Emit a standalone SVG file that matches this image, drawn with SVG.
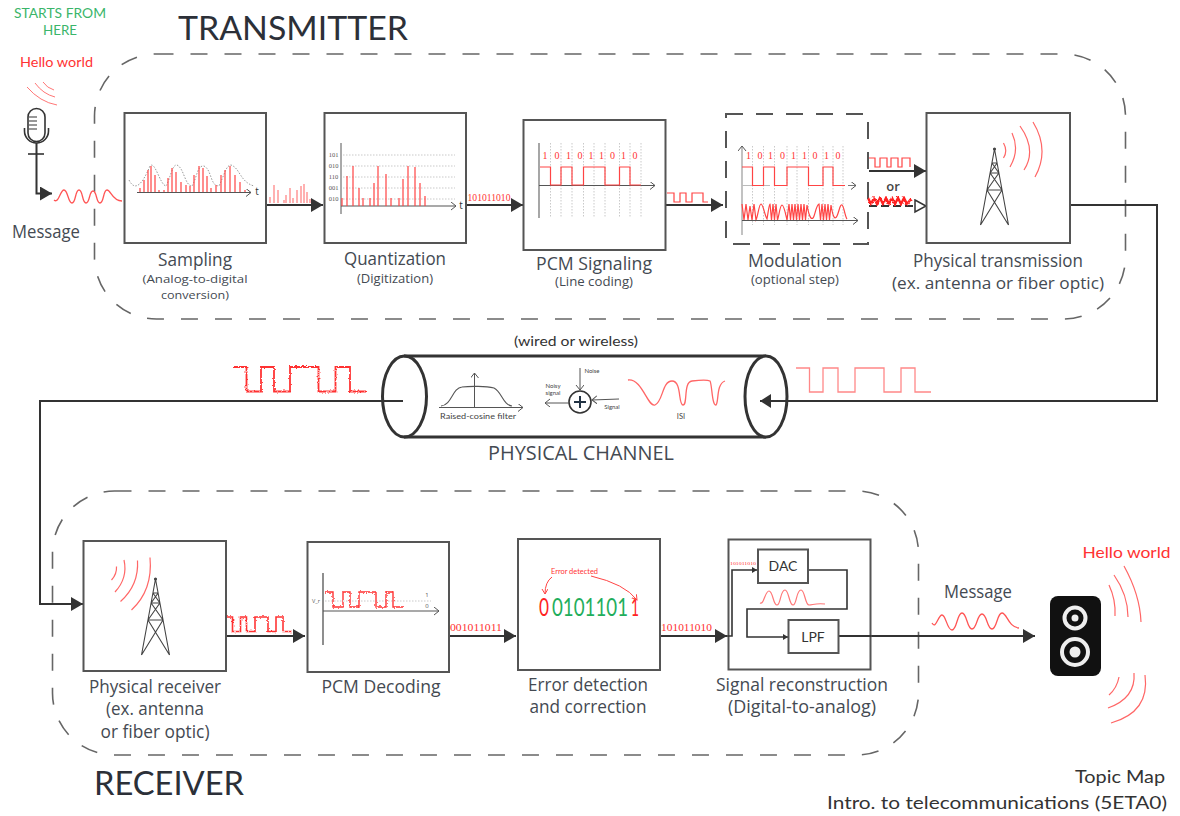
<svg xmlns="http://www.w3.org/2000/svg" width="1180" height="816" viewBox="0 0 1180 816">
<style>
text{font-family:"Open Sans","Noto Sans",sans-serif;fill:#444a52;text-anchor:middle}
.h{font-size:18px}
.s{font-size:13px}
.m{font-size:16px}
.c{font-family:"Lato","Noto Sans",sans-serif}
.r{fill:#f33}
.g{fill:#3ab56a}
.b{font-family:"Liberation Serif",serif;fill:#f33}
.box{fill:#fff;stroke:#555;stroke-width:2}
.dash{fill:none;stroke:#666;stroke-width:1.6;stroke-dasharray:17 17}
.ln{fill:none;stroke:#333;stroke-width:2}
.thin{fill:none;stroke:#555;stroke-width:1}
.sig{fill:none;stroke:#f44;stroke-width:1.2}
.lt{fill:none;stroke:#f88;stroke-width:1.3}
.dot{fill:none;stroke:#bbb;stroke-width:.8;stroke-dasharray:1.5 1.5}
</style>
<defs>
<marker id="a" markerUnits="userSpaceOnUse" markerWidth="13" markerHeight="15" refX="12" refY="7" orient="auto"><path d="M0,0L12,7L0,14Z" fill="#333"/></marker>
<marker id="ah" markerUnits="userSpaceOnUse" markerWidth="14" markerHeight="15" refX="12" refY="7" orient="auto"><path d="M1,1L12,7L1,13Z" fill="#fff" stroke="#333" stroke-width="1.5"/></marker>
<marker id="sm" markerUnits="userSpaceOnUse" markerWidth="7" markerHeight="7" refX="5" refY="3" orient="auto"><path d="M0,0L5,3L0,6Z" fill="#333"/></marker>
<marker id="ch" markerUnits="userSpaceOnUse" markerWidth="8" markerHeight="10" refX="5" refY="4" orient="auto"><path d="M0,0L5,4L0,8" fill="none" stroke="#555" stroke-width="1"/></marker>
<marker id="cr" markerUnits="userSpaceOnUse" markerWidth="7" markerHeight="8" refX="5" refY="3" orient="auto"><path d="M0,0L5,3L0,6" fill="none" stroke="#f44" stroke-width="1"/></marker>
<filter id="n" x="-5%" y="-30%" width="110%" height="160%"><feTurbulence type="fractalNoise" baseFrequency=".45" numOctaves="2" seed="4"/><feDisplacementMap in="SourceGraphic" scale="3" xChannelSelector="R" yChannelSelector="G"/></filter>
<g id="tower" fill="none" stroke="#444" stroke-width="1.1">
<path d="M0,0L-14,76M0,0L14,76M-2.6,14L2.6,14M-2.6,14L4.400,24M2.6,14L-4.400,24M-4.400,24L4.400,24M-4.400,24L7.500,41M4.400,24L-7.500,41M-7.500,41L7.500,41M-7.500,41L14,76M7.500,41L-14,76"/>
<circle cx="0" cy="0" r="1" fill="#444"/>
</g>
</defs>

<g id="frames">
<rect class="dash" x="94.5" y="54" width="1031" height="265" rx="62"/>
<rect class="dash" x="52.5" y="491" width="866" height="264" rx="62"/>
</g>

<g id="titles">
<text class="c" x="293" y="40" font-size="32" textLength="230" lengthAdjust="spacingAndGlyphs" style="fill:#2c3038">TRANSMITTER</text>
<text class="c" x="169" y="795" font-size="32" textLength="150" lengthAdjust="spacingAndGlyphs" style="fill:#2c3038">RECEIVER</text>
<text class="c g" x="60" y="18" font-size="12.5" textLength="92" lengthAdjust="spacingAndGlyphs">STARTS FROM</text>
<text class="c g" x="60" y="35" font-size="12.5" textLength="34" lengthAdjust="spacingAndGlyphs">HERE</text>
<text class="c" x="1165" y="783" font-size="18" style="text-anchor:end;fill:#333" textLength="90" lengthAdjust="spacingAndGlyphs">Topic Map</text>
<text class="c" x="1167" y="809" font-size="18" style="text-anchor:end;fill:#333" textLength="340" lengthAdjust="spacingAndGlyphs">Intro. to telecommunications (5ETA0)</text>
</g>

<g id="connectors">
<path class="ln" marker-end="url(#a)" d="M36.5,143V193.5H52"/>
<path class="ln" marker-end="url(#a)" d="M266,205H323"/>
<path class="ln" marker-end="url(#a)" d="M466,205H523"/>
<path class="ln" marker-end="url(#a)" d="M666,205H723"/>
<path class="ln" marker-end="url(#a)" d="M869,171H926"/>
<path class="ln" marker-end="url(#ah)" stroke-dasharray="8 4" d="M869,206H926"/>
<path class="ln" marker-end="url(#a)" d="M1070,205H1157V401H760"/>
<path class="ln" marker-end="url(#a)" d="M403,401H40V604H83"/>
<path class="ln" marker-end="url(#a)" d="M226,636H305"/>
<path class="ln" marker-end="url(#a)" d="M449,636H516"/>
<path class="ln" marker-end="url(#a)" d="M660,636H727"/>
<path class="ln" marker-end="url(#a)" d="M838,636H1035"/>
</g>

<g id="source">
<path d="M27,87Q40,102 57,105M35,83Q43,94 55,97M43,82Q47,88 54,90" fill="none" stroke="#f77" stroke-width="1"/>
<rect x="28" y="108.5" width="17" height="33" rx="8.5" fill="#fff" stroke="#333" stroke-width="1.6"/>
<path d="M29,117H37M29,121H37M29,125H37M29,129H37" stroke="#333" stroke-width="1.2"/>
<path d="M24.5,128V131A12,12 0 0 0 48.5,131V128" fill="none" stroke="#333" stroke-width="1.6"/>
<path d="M28,154H44" stroke="#333" stroke-width="1.6"/>
<text class="c r" x="56.5" y="67" font-size="14" textLength="73" lengthAdjust="spacingAndGlyphs">Hello world</text>
<text class="h" x="46" y="238" textLength="68" lengthAdjust="spacingAndGlyphs">Message</text>
<path d="M54,200C59,204 60,190 64,190C68,190 68,203 72,203C76,203 75,190 79,190C83,190 82,203 86,203C90,203 89,191 93,191C97,191 96,203 100,203C104,203 103,190 107,190C111,190 112,201 122,201" fill="none" stroke="#f55" stroke-width="1.3"/>
</g>

<g id="sampling">
<rect class="box" x="124.5" y="113" width="141.5" height="130"/>
<path d="M129,180C135,192 142,185 150,166C155,160 160,185 166,186C170,180 172,164 177,165C184,168 185,186 192,186C197,178 197,165 204,166C212,170 210,186 219,186C224,176 226,165 231,165C240,168 240,182 254,186" fill="none" stroke="#999" stroke-width="1" stroke-dasharray="1.5 1.5"/>
<path class="sig" stroke-width="1" d="M140,192V188M144,192V180M148,192V170M151,192V166M155,192V175M159,192V190M164,192V190M168,192V178M172,192V168M176,192V172M181,192V182M186,192V185M190,192V186M194,192V175M199,192V166M203,192V168M207,192V176M211,192V188M216,192V185M221,192V175M225,192V170M230,192V166M235,192V175M240,192V182M245,192V190"/>
<path d="M137,192.5H251" fill="none" stroke="#555" stroke-width="1.2" marker-end="url(#ch)"/>
<text x="257" y="195" font-size="10" style="fill:#333">t</text>
<path class="lt" d="M270,203V197M274,203V185M278,203V190M284,203V200M286,203V195M290,203V188M293,203V198M297,203V190M301,203V186M304,203V184M307,203V192M310,203V199" stroke-width="1"/>
<text class="h" x="195" y="266" textLength="74" lengthAdjust="spacingAndGlyphs">Sampling</text>
<text x="195" y="283" font-size="11.500" textLength="105" lengthAdjust="spacingAndGlyphs">(Analog-to-digital</text>
<text x="195" y="299" font-size="11.500" textLength="68" lengthAdjust="spacingAndGlyphs">conversion)</text>
</g>

<g id="quantization">
<rect class="box" x="324.5" y="113" width="141.5" height="130"/>
<path class="dot" d="M343,155H455M343,166H455M343,177H455M343,188H455M343,199H455"/>
<path d="M341,143V214" class="thin"/>
<path d="M341,206H456" fill="none" stroke="#555" stroke-width="1.2" marker-end="url(#ch)"/>
<path class="sig" d="M342,206V198M347,206V176M353,206V166M359,206V188M363,206V198M370,206V198M374,206V183M378,206V166M386,206V174M391,206V198M399,206V198M403,206V179M408,206V166M415,206V167M420,206V183M425,206V196"/>
<g font-size="6.5"><text x="333.500" y="157" style="fill:#555;font-family:'Liberation Serif',serif">101</text><text x="333.500" y="168" style="fill:#555;font-family:'Liberation Serif',serif">010</text><text x="333.500" y="179" style="fill:#555;font-family:'Liberation Serif',serif">110</text><text x="333.500" y="190" style="fill:#555;font-family:'Liberation Serif',serif">001</text><text x="333.500" y="201" style="fill:#555;font-family:'Liberation Serif',serif">010</text></g>
<text x="461" y="209" font-size="10" style="fill:#333">t</text>
<text class="b" x="489" y="201" font-size="9.5" textLength="43" lengthAdjust="spacingAndGlyphs">101011010</text>
<text class="h" x="395" y="265" textLength="102" lengthAdjust="spacingAndGlyphs">Quantization</text>
<text class="s" x="395" y="283" textLength="76" lengthAdjust="spacingAndGlyphs">(Digitization)</text>
</g>

<g id="pcm-signaling">
<rect class="box" x="523.5" y="120" width="142" height="130"/>
<path class="dot" d="M550.500,143V218M561,143V218M572,143V218M583.500,143V218M594,143V218M605,143V218M619.500,143V218M630,143V218M641,143V218"/>
<path d="M539,143V218" fill="none" stroke="#777" stroke-width="1.3"/>
<path d="M539,185.500H655" fill="none" stroke="#555" stroke-width="1.2" marker-end="url(#ch)"/>
<path class="sig" d="M540,167H550.500V185H561V167H572V185H583.500V167H605V185H619.500V167H630V185H641"/>
<g font-size="10"><text class="b" x="545" y="159">1</text><text class="b" x="557" y="159">0</text><text class="b" x="568.500" y="159">1</text><text class="b" x="580" y="159">0</text><text class="b" x="591" y="159">1</text><text class="b" x="601.500" y="159">1</text><text class="b" x="612.500" y="159">0</text><text class="b" x="623.500" y="159">1</text><text class="b" x="635" y="159">0</text></g>
<path class="sig" d="M667,193H674V202H680V193H686V202H692V193H703V202H708" stroke-width="1"/>
<text class="h" x="594" y="270" textLength="116" lengthAdjust="spacingAndGlyphs">PCM Signaling</text>
<text class="s" x="594" y="286" textLength="78" lengthAdjust="spacingAndGlyphs">(Line coding)</text>
</g>

<g id="modulation">
<rect x="726" y="114" width="142" height="130" fill="#fff" stroke="#555" stroke-width="2" stroke-dasharray="17 13"/>
<path d="M742,235V146" fill="none" stroke="#999" stroke-width="1.2" marker-end="url(#ch)"/>
<path class="dot" d="M752.500,146V225M763.500,146V225M774.500,146V225M787,146V225M797,146V225M808.500,146V225M823,146V225M833,146V225M843,146V225"/>
<path d="M742,185.500H770" stroke="#bbb" stroke-width="1"/>
<path d="M848,185.500H856" fill="none" stroke="#777" stroke-width="1" marker-end="url(#ch)"/>
<path class="sig" d="M742,167H752.500V185.500H763.500V167H774.500V185.500H787V167H808.500V185.500H823V167H833V185.500H845"/>
<path class="sig" d="M742,204L744,220L746,204L748,220L750,206L752,220L754,204L756,220C758,216 759,204 761,204S765,216 767,219C768,214 769,204 770,204L771.500,220L773,204L774.500,220L776,204L777.500,220C779,216 780,205 782,205S786,216 787,220L789,204L790.500,220L792,204L793.500,220L795,204L796.500,220L798,204L799.500,220L801,204L802.500,220L804,204L805.500,220L807,205C809,216 811,220 813,218S816,205 819,204L820.500,220L822,204L823.500,220L825,204L826.500,220L828,204L829.500,220L831,205C833,218 835,220 837,216S840,204 842,205S845,217 847,219" stroke-width="1.1"/>
<path d="M742,220.500H858" fill="none" stroke="#555" stroke-width="1.2" marker-end="url(#ch)"/>
<g font-size="10"><text class="b" x="748.500" y="159">1</text><text class="b" x="760" y="159">0</text><text class="b" x="770.500" y="159">1</text><text class="b" x="782.500" y="159">0</text><text class="b" x="793.500" y="159">1</text><text class="b" x="804.500" y="159">1</text><text class="b" x="815" y="159">0</text><text class="b" x="826.500" y="159">1</text><text class="b" x="838" y="159">0</text></g>
<path class="sig" d="M869,158H875V167H880V158H887V167H891V158H898V167H902V158H910V167" stroke-width="1"/>
<text x="893" y="191" font-size="13" font-weight="600" style="fill:#444">or</text>
<path d="M868,198L871,204L874,198L877,204L880,198L883,204L886,198L889,204L892,198L895,204L898,198L901,204L904,198L907,204L911,199" fill="none" stroke="#f22" stroke-width="2.4" filter="url(#n)"/>
<text class="h" x="795" y="267" textLength="94" lengthAdjust="spacingAndGlyphs">Modulation</text>
<text class="s" x="795" y="284" textLength="88" lengthAdjust="spacingAndGlyphs">(optional step)</text>
</g>

<g id="physical-transmission">
<rect class="box" x="926.500" y="113" width="143.500" height="130"/>
<use href="#tower" x="994.500" y="149"/>
<path d="M1003.500,143Q1008,151 1003.500,158M1012,133Q1020,150 1010,167M1020,126Q1037,150 1024,170M1033,122Q1050,150 1035,177" fill="none" stroke="#f66" stroke-width="1.2"/>
<text class="h" x="998" y="267" textLength="170" lengthAdjust="spacingAndGlyphs">Physical transmission</text>
<text class="m" x="998" y="289" textLength="212" lengthAdjust="spacingAndGlyphs">(ex. antenna or fiber optic)</text>
</g>

<g id="physical-channel">
<path d="M404,356H766M404,437H766" stroke="#333" stroke-width="3" fill="none"/>
<ellipse cx="404.500" cy="396.500" rx="22" ry="40.500" fill="none" stroke="#333" stroke-width="3"/>
<ellipse cx="766" cy="396.500" rx="21" ry="40.500" fill="#fff" stroke="#333" stroke-width="3"/>
<path d="M787,401H760" stroke="#333" stroke-width="2"/>
<path d="M760,401L771,394V408Z" fill="#333"/>
<text x="576" y="346" font-size="13" class="c" textLength="124" lengthAdjust="spacingAndGlyphs" style="fill:#333">(wired or wireless)</text>
<text x="581" y="460" font-size="20" textLength="186" lengthAdjust="spacingAndGlyphs">PHYSICAL CHANNEL</text>
<path d="M439,407.500H523" fill="none" stroke="#555" stroke-width="1" marker-end="url(#ch)"/>
<path d="M474.500,408V373" fill="none" stroke="#555" stroke-width="1" marker-end="url(#ch)"/>
<path d="M441,406C452,405 452,388 462,387C470,386 486,386 494,388C502,392 503,405 512,406" fill="none" stroke="#555" stroke-width="1.1"/>
<text class="c" x="478" y="419" font-size="7.500" textLength="76" lengthAdjust="spacingAndGlyphs" style="fill:#444">Raised-cosine filter</text>
<circle cx="580" cy="402" r="11" fill="#fff" stroke="#333" stroke-width="1.6"/>
<path d="M574,402H586M580,396V408" stroke="#234" stroke-width="2"/>
<path d="M580,368V390" fill="none" stroke="#555" stroke-width="1" marker-end="url(#ch)"/>
<path d="M619,399L592,400" fill="none" stroke="#555" stroke-width="1" marker-end="url(#ch)"/>
<path d="M569,403H545" fill="none" stroke="#555" stroke-width="1" marker-end="url(#ch)"/>
<text class="c" x="592" y="373" font-size="6" style="fill:#444">Noise</text>
<text class="c" x="553" y="388" font-size="6" style="fill:#444">Noisy</text>
<text class="c" x="553" y="395" font-size="6" style="fill:#444">signal</text>
<text class="c" x="612" y="409" font-size="6" style="fill:#444">Signal</text>
<path d="M628,380C642,378 648,408 655,405C663,402 662,381 672,381C682,381 678,405 683,405C688,405 683,382 692,381C700,380 708,380 710,381C712,384 712,406 716,405C719,402 716,384 725,381" fill="none" stroke="#f66" stroke-width="1.3"/>
<text class="c" x="681" y="419" font-size="7.500" style="fill:#444">ISI</text>
<path class="lt" d="M796,368H809.500V392H823V368H838V392H855V368H884V392H901V368H915V392H931"/>
<path d="M233,367H246.500V391.500H261V367H274V391.500H290V367H318.500V391.500H335.500V367H350V391.500H366" fill="none" stroke="#f33" stroke-width="1.8" filter="url(#n)"/>
</g>

<g id="physical-receiver">
<rect class="box" x="83.500" y="541" width="142.500" height="130"/>
<use href="#tower" x="155.500" y="579"/>
<path d="M116.500,566.500Q117,574 111.500,580M124,560Q128,578 115,592M137.500,560.500Q139,585 120.500,601.500M150,557.500Q153,590 131.500,610" fill="none" stroke="#f66" stroke-width="1.2"/>
<path d="M227,617H232.500V631.500H240.500V617H246.500V631.500H255V617H268V631.500H276V617H283V631.500H292" fill="none" stroke="#f33" stroke-width="1.6" filter="url(#n)"/>
<text class="h" x="155" y="693" textLength="132" lengthAdjust="spacingAndGlyphs">Physical receiver</text>
<text class="h" x="155" y="715" textLength="98" lengthAdjust="spacingAndGlyphs">(ex. antenna</text>
<text class="h" x="155" y="738" textLength="109" lengthAdjust="spacingAndGlyphs">or fiber optic)</text>
</g>

<g id="pcm-decoding">
<rect class="box" x="307.500" y="542" width="141.500" height="130"/>
<path d="M323,573V645" stroke="#444" stroke-width="1.2"/>
<path d="M323,611H439" fill="none" stroke="#555" stroke-width="1.2" marker-end="url(#ch)"/>
<path class="dot" d="M325,601H431"/>
<text x="316" y="603" font-size="5.500" style="fill:#555">V_r</text>
<text x="427" y="597" font-size="6" style="fill:#555">1</text>
<text x="427" y="608" font-size="6" style="fill:#555">0</text>
<path d="M325,592H333V607H343V592H350V607H359V592H376V607H386V592H393V607H403" fill="none" stroke="#f33" stroke-width="1.4" filter="url(#n)"/>
<text class="b" x="476" y="631" font-size="10" textLength="52" lengthAdjust="spacingAndGlyphs">001011011</text>
<text class="h" x="381" y="693" textLength="119" lengthAdjust="spacingAndGlyphs">PCM Decoding</text>
</g>

<g id="error-detection">
<rect class="box" x="518" y="539" width="142" height="131"/>
<text class="c" x="544" y="616" font-size="25" textLength="10" lengthAdjust="spacingAndGlyphs" style="fill:#f22">0</text>
<text class="c" x="590" y="616" font-size="25" textLength="76" lengthAdjust="spacingAndGlyphs" style="fill:#1fae5c">0101101</text>
<text class="c" x="635" y="616" font-size="25" textLength="8" lengthAdjust="spacingAndGlyphs" style="fill:#f22">1</text>
<text class="c r" x="574.500" y="574" font-size="7" textLength="47" lengthAdjust="spacingAndGlyphs">Error detected</text>
<path d="M552,577Q545,582 545,594" fill="none" stroke="#f44" stroke-width="1" marker-end="url(#cr)"/>
<path d="M591,576Q625,584 637,600" fill="none" stroke="#f44" stroke-width="1" marker-end="url(#cr)"/>
<text class="b" x="686.500" y="631" font-size="10" textLength="51" lengthAdjust="spacingAndGlyphs">101011010</text>
<text class="h" x="588" y="691" textLength="120" lengthAdjust="spacingAndGlyphs">Error detection</text>
<text class="h" x="588" y="713" textLength="117" lengthAdjust="spacingAndGlyphs">and correction</text>
</g>

<g id="signal-reconstruction">
<rect class="box" x="728.500" y="539.500" width="142" height="130"/>
<path d="M727,636H732V570H757" fill="none" stroke="#333" stroke-width="1.600" marker-end="url(#sm)"/>
<path d="M808,570H847V609H747V637H788" fill="none" stroke="#333" stroke-width="1.600" marker-end="url(#sm)"/>
<path d="M838,636H871" stroke="#333" stroke-width="2"/>
<rect class="box" x="758" y="549.500" width="50" height="33.500"/>
<rect class="box" x="788.500" y="620" width="50" height="33"/>
<text class="c" x="783" y="571" font-size="14" style="fill:#333">DAC</text>
<text class="c" x="813" y="642" font-size="14" style="fill:#333">LPF</text>
<text class="b" x="743" y="565" font-size="5" textLength="26" lengthAdjust="spacingAndGlyphs">101011010</text>
<path d="M760,603C764,605 765,591 769,591C773,591 773,605 777,605C781,605 780,590 785,590C789,590 789,605 793,605C797,605 796,590 801,590C805,590 805,605 809,605C813,605 815,603 825,604" fill="none" stroke="#f77" stroke-width="1.200"/>
<text class="h" x="802" y="691" textLength="172" lengthAdjust="spacingAndGlyphs">Signal reconstruction</text>
<text class="h" x="802" y="713" textLength="148" lengthAdjust="spacingAndGlyphs">(Digital-to-analog)</text>
</g>

<g id="speaker">
<text class="h" x="978" y="598" textLength="68" lengthAdjust="spacingAndGlyphs">Message</text>
<path d="M932,623C936,630 938,615 942,615C946,615 947,630 952,630C957,630 957,613 962,613C967,613 967,629 972,629C977,629 977,614 982,614C987,614 987,629 992,629C997,629 997,613 1002,613C1007,613 1008,627 1019,628" fill="none" stroke="#f55" stroke-width="1.300"/>
<rect x="1050" y="596" width="51" height="80" rx="8" fill="#111"/>
<circle cx="1075" cy="618" r="10.500" fill="none" stroke="#eee" stroke-width="4"/>
<circle cx="1075" cy="618" r="3.500" fill="#eee"/>
<circle cx="1075" cy="652" r="13" fill="none" stroke="#eee" stroke-width="4"/>
<circle cx="1075" cy="652" r="5.500" fill="#eee"/>
<path d="M1109,585Q1116,600 1115,616M1114,575Q1128,595 1128,617M1124,566Q1140,595 1141,622M1119,677Q1117,688 1109,695M1134,673Q1136,698 1108,708M1145,675Q1150,712 1111,723" fill="none" stroke="#f66" stroke-width="1.200"/>
<text class="c r" x="1126.500" y="558" font-size="16" textLength="88" lengthAdjust="spacingAndGlyphs">Hello world</text>
</g>
</svg>
